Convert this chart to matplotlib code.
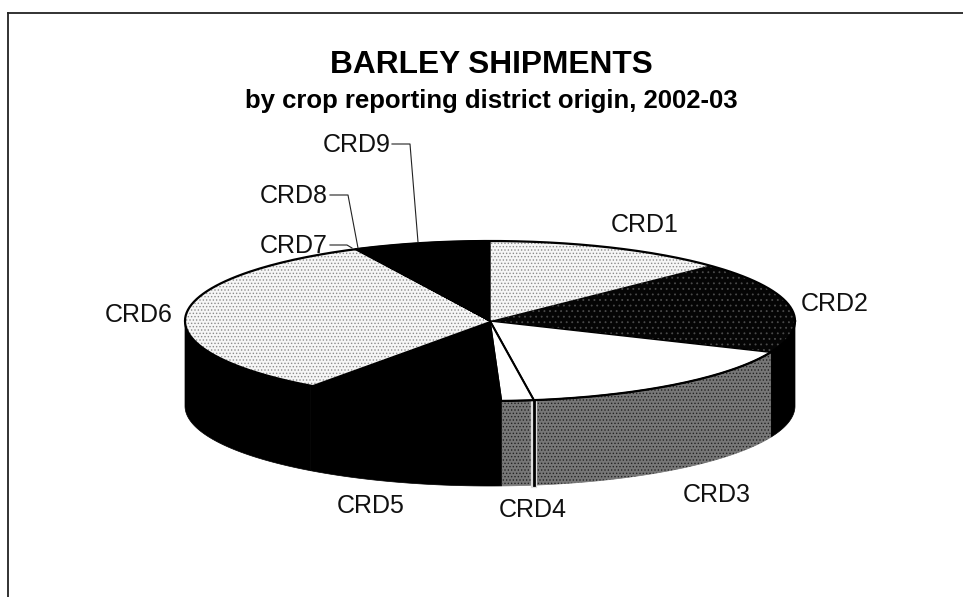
import numpy as np
import matplotlib
matplotlib.use('Agg')
import matplotlib.pyplot as plt
from matplotlib.patches import Polygon
from matplotlib.transforms import Affine2D

plt.rcParams['font.family'] = ['Liberation Sans', 'DejaVu Sans']
plt.rcParams['hatch.linewidth'] = 0.6

# share of shipments, percent
districts = ['CRD1', 'CRD2', 'CRD3', 'CRD4', 'CRD5', 'CRD6', 'CRD7', 'CRD8', 'CRD9']
shares = [12.8, 18.6, 16.3, 1.7, 10.6, 32.7, 0.1, 0.1, 7.1]

top_colors = ['#f6f6f6', '#050505', 'white', 'white', 'black', '#f6f6f6', 'white', 'white', 'black']
top_hatch = ['.....', '...', None, None, None, '.....', None, None, None]
hatch_colors = ['#8c8c8c', '#4a4a4a', 'black', 'black', 'black', '#8c8c8c', 'black', 'black', 'black']
side_colors = ['black', 'black', '#777777', '#777777', 'black', 'black', 'black', 'black', 'black']

# pie geometry in image pixels
cx, cy, rx, ry, depth = 490, 321, 305, 80, 85

fig = plt.figure(figsize=(9.63, 5.97), dpi=100)
ax = fig.add_axes([0, 0, 1, 1])

wedges, _ = ax.pie(shares, startangle=90, counterclock=False, radius=1,
                   wedgeprops={'linewidth': 1.0})
ax.set_aspect('auto')
ax.set_xlim(0, 963)
ax.set_ylim(597, 0)
ax.axis('off')

squash = Affine2D().scale(rx, -ry).translate(cx, cy) + ax.transData
for w, fc, h, hc in zip(wedges, top_colors, top_hatch, hatch_colors):
    w.set_transform(squash)
    w.set_facecolor(fc)
    w.set_zorder(4)
    if h:
        w.set_hatch(h)
        w.set_edgecolor(hc)
        # outline kept separate, the hatch takes the edge colour
        w.set_linewidth(0)
    else:
        w.set_edgecolor('black')

# outer wall, only the front half of each slice shows
for w, sc in zip(wedges, side_colors):
    t1, t2 = w.theta1 % 360, w.theta2 % 360
    if t2 <= t1:
        t2 += 360
    a = max(t1, 180)
    b = min(t2, 360)
    if b <= a:
        continue
    ang = np.radians(np.linspace(a, b, 60))
    x = cx + rx * np.cos(ang)
    y = cy - ry * np.sin(ang)
    pts = np.column_stack([np.r_[x, x[::-1]], np.r_[y, y[::-1] + depth]])
    ax.add_patch(Polygon(pts, closed=True, facecolor=sc, edgecolor=sc, linewidth=0.5, zorder=2))
    if sc != 'black':
        ax.add_patch(Polygon(pts, closed=True, facecolor='none', edgecolor='#222222',
                             hatch='.....', linewidth=0, zorder=3))

# rim of the top surface and the black gap between the two grey walls
ang = np.radians(np.linspace(0, 360, 361))
ax.plot(cx + rx * np.cos(ang), cy - ry * np.sin(ang), color='black', lw=1.6, zorder=5)
gap = np.radians(90 - sum(shares[:3]) * 3.6)
gx = cx + rx * np.cos(gap)
gy = cy - ry * np.sin(gap)
ax.plot([gx, gx], [gy + 2, gy + depth], color='#dddddd', lw=4.5, zorder=4)
ax.plot([gx, gx], [gy, gy + depth], color='black', lw=2, zorder=5)
ax.plot([cx, gx], [cy, gy], color='black', lw=1.5, zorder=5)

ax.text(491, 73, 'BARLEY SHIPMENTS', ha='center', va='baseline', fontsize=22.8, fontweight='bold')
ax.text(491, 108, 'by crop reporting district origin, 2002-03', ha='center', va='baseline',
        fontsize=18.5, fontweight='bold')

# label centres in x, text baselines in y
label_pos = {'CRD1': (645, 232), 'CRD2': (835, 311), 'CRD3': (717, 502), 'CRD4': (533, 517),
             'CRD5': (371, 513), 'CRD6': (139, 322), 'CRD7': (294, 253), 'CRD8': (294, 203),
             'CRD9': (357, 152)}
for name in districts:
    ax.text(*label_pos[name], name, ha='center', va='baseline', fontsize=18, color='#111111')

# leader lines
leaders = [([330, 347, 352], [245, 245, 248]),
           ([330, 348, 358], [195, 195, 248]),
           ([392, 410, 418], [144, 144, 242])]
for lx, ly in leaders:
    ax.plot(lx, ly, color='#222222', lw=0.8, zorder=6)

# scanned frame
ax.plot([8, 8], [597, 13], color='#222222', lw=1.3)
ax.plot([8, 963], [13, 13], color='#222222', lw=1.3)

fig.savefig('out.png', dpi=100)
plt.close(fig)
